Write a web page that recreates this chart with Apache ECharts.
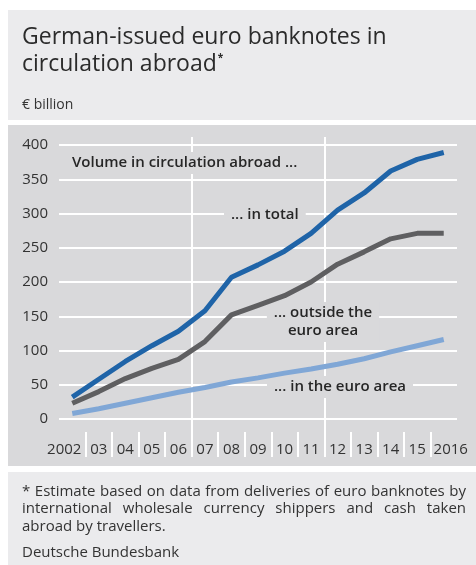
<!DOCTYPE html>
<html><head><meta charset="utf-8">
<script src="https://cdn.jsdelivr.net/npm/echarts@6/dist/echarts.min.js"></script>
<style>html,body{margin:0;padding:0;background:#fff}#c{width:476px;height:565px}</style>
</head><body><div id="c"></div>
<script>
// ---- data ----
const years = ['2002','2003','2004','2005','2006','2007','2008','2009','2010','2011','2012','2013','2014','2015','2016'];
const yearLabels = ['2002','03','04','05','06','07','08','09','10','11','12','13','14','15','2016'];
const totalAbroad     = [32, 58, 84, 107, 128, 158, 207, 225, 245, 271, 305, 330, 362, 379, 389];
const outsideEuroArea = [23, 40, 59, 74, 87, 113, 152, 166, 180, 200, 226, 244, 263, 271, 271];
const insideEuroArea  = [8, 15, 23, 31, 39, 46, 54, 60, 67, 73, 80, 88, 98, 107, 116];

const titleLines = ['German-issued euro banknotes in', 'circulation abroad'];
const unitText = '€ billion';
const noteLines = [
  '* Estimate based on data from deliveries of euro banknotes by',
  'international wholesale currency shippers and cash taken',
  'abroad by travellers.'
];
const sourceText = 'Deutsche Bundesbank';
const annotations = {
  head: 'Volume in circulation abroad ...',
  total: '... in total',
  outside: '... outside the\neuro area',
  inside: '... in the euro area'
};

// ---- style ----
const FF = '"Open Sans", "Noto Sans", sans-serif';
const TXT = '#333333';
const PLOT_BG = '#d9d9db';
const PANEL_BG = '#ebebed';
const cBlue = '#1f64a8', cGray = '#5f5f61', cLight = '#80a7d6';

const mctx = document.createElement('canvas').getContext('2d');
function tw(t, font) { mctx.font = font; return mctx.measureText(t).width; }

const chart = echarts.init(document.getElementById('c'), null, {renderer: 'canvas'});

const graphics = [];
// panels
graphics.push({type: 'rect', z: -100, silent: true, shape: {x: 8, y: 10, width: 468, height: 110}, style: {fill: PANEL_BG}});
graphics.push({type: 'rect', z: -100, silent: true, shape: {x: 8, y: 125, width: 468, height: 341}, style: {fill: PLOT_BG}});
graphics.push({type: 'rect', z: -100, silent: true, shape: {x: 8, y: 472, width: 468, height: 93}, style: {fill: PANEL_BG}});

// title
const titleFont = '500 23px ' + FF;
graphics.push({type: 'text', z: 100, style: {text: titleLines[0], x: 22, y: 37, font: titleFont, fill: '#2b2b2b', verticalAlign: 'middle'}});
graphics.push({type: 'text', z: 100, style: {text: titleLines[1], x: 22, y: 64, font: titleFont, fill: '#2b2b2b', verticalAlign: 'middle'}});
graphics.push({type: 'text', z: 100, style: {text: '*', x: 22 + tw(titleLines[1], titleFont) + 1, y: 58, font: 'bold 10px ' + FF, fill: '#2b2b2b', verticalAlign: 'middle'}});
graphics.push({type: 'text', z: 100, style: {text: unitText, x: 22, y: 105, font: '14px ' + FF, fill: TXT, verticalAlign: 'middle'}});

// annotations (above grid lines, below data lines)
const annFont = '600 15px ' + FF;
function ann(text, x, y, align) {
  graphics.push({type: 'text', z: 1, style: {text: text, x: x, y: y, font: annFont, fill: '#262626', align: align || 'left', verticalAlign: 'middle',
    backgroundColor: PLOT_BG, padding: [2, 7], lineHeight: 18}});
}
ann(annotations.head, 65, 163);
ann(annotations.total, 224, 215);
ann(annotations.outside, 323, 322, 'center');
ann(annotations.inside, 267, 387);

// footnote (justified)
const noteFont = '15px ' + FF;
function justify(line, y, x0, x1, doJustify) {
  const words = line.split(' ');
  if (!doJustify) {
    graphics.push({type: 'text', z: 100, style: {text: line, x: x0, y: y, font: noteFont, fill: TXT, verticalAlign: 'middle'}});
    return;
  }
  const widths = words.map(w => tw(w, noteFont));
  const sum = widths.reduce((a, b) => a + b, 0);
  const gap = (x1 - x0 - sum) / (words.length - 1);
  let x = x0;
  words.forEach((w, i) => {
    graphics.push({type: 'text', z: 100, style: {text: w, x: x, y: y, font: noteFont, fill: TXT, verticalAlign: 'middle'}});
    x += widths[i] + gap;
  });
}
justify(noteLines[0], 492, 22, 466, true);
justify(noteLines[1], 509, 22, 466, true);
justify(noteLines[2], 527, 22, 466, false);
justify(sourceText, 553, 22, 466, false);

const lastIdx = years.length - 1;
const labelRich = {
  first: {padding: [0, 16, 0, 0], fontSize: 15, color: TXT, fontFamily: FF},
  last: {padding: [0, 0, 0, 14], fontSize: 15, color: TXT, fontFamily: FF}
};

const option = {
  animation: false,
  backgroundColor: '#ffffff',
  graphic: graphics,
  grid: [
    {left: 59, right: 19, top: 145, bottom: 146},
    {left: 59, right: 19, top: 137, bottom: 108},
    {left: 59, right: 19, top: 432, bottom: 108}
  ],
  xAxis: [
    {gridIndex: 0, type: 'category', data: years, boundaryGap: true,
      axisLine: {show: false}, axisTick: {show: false}, splitLine: {show: false},
      axisLabel: {interval: 0, margin: 23, fontSize: 15, color: TXT, fontFamily: FF,
        formatter: function (v, i) {
          const l = yearLabels[i];
          if (i === 0) return '{first|' + l + '}';
          if (i === lastIdx) return '{last|' + l + '}';
          return l;
        }, rich: labelRich}},
    {gridIndex: 1, type: 'category', data: years, boundaryGap: true,
      axisLine: {show: false}, axisTick: {show: false}, axisLabel: {show: false},
      splitLine: {show: true, interval: function (i) { return i === 0 || i === 5 || i === 10; },
        showMinLine: false, showMaxLine: false, lineStyle: {color: '#ffffff', width: 2}}},
    {gridIndex: 2, type: 'category', data: years, boundaryGap: true,
      axisLine: {show: false}, axisTick: {show: false}, axisLabel: {show: false},
      splitLine: {show: true, interval: 0, showMinLine: false, showMaxLine: false, lineStyle: {color: '#ffffff', width: 2}}}
  ],
  yAxis: [
    {gridIndex: 0, type: 'value', min: 0, max: 400, interval: 50,
      axisLine: {show: false}, axisTick: {show: false},
      axisLabel: {margin: 11, fontSize: 15, color: TXT, fontFamily: FF},
      splitLine: {show: true, lineStyle: {color: '#ffffff', width: 2}}},
    {gridIndex: 1, type: 'value', show: false},
    {gridIndex: 2, type: 'value', show: false}
  ],
  series: [
    {name: 'in the euro area', type: 'line', xAxisIndex: 0, yAxisIndex: 0, data: insideEuroArea, showSymbol: false, symbol: 'none',
      lineStyle: {color: cLight, width: 5}, itemStyle: {color: cLight}, z: 3},
    {name: 'outside the euro area', type: 'line', xAxisIndex: 0, yAxisIndex: 0, data: outsideEuroArea, showSymbol: false, symbol: 'none',
      lineStyle: {color: cGray, width: 5}, itemStyle: {color: cGray}, z: 4},
    {name: 'in total', type: 'line', xAxisIndex: 0, yAxisIndex: 0, data: totalAbroad, showSymbol: false, symbol: 'none',
      lineStyle: {color: cBlue, width: 5}, itemStyle: {color: cBlue}, z: 5}
  ]
};
chart.setOption(option);
</script>
</body></html>
